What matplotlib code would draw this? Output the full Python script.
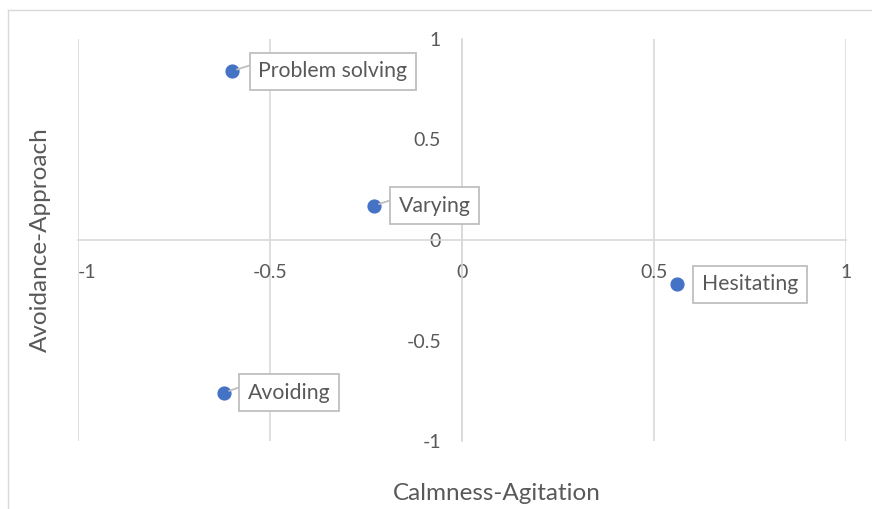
import matplotlib.pyplot as plt
from matplotlib.lines import Line2D

plt.rcParams['font.family'] = ['Lato', 'DejaVu Sans']

# data
names = ['Problem solving', 'Varying', 'Hesitating', 'Avoiding']
calm_agit = [-0.60, -0.23, 0.56, -0.62]
avoid_appr = [0.84, 0.17, -0.22, -0.76]
ticks = [-1, -0.5, 0, 0.5, 1]
tick_labels = ['-1', '-0.5', '0', '0.5', '1']

# label offsets (pixels) and leader line yes/no
offsets = [(101, 0), (61, 0), (73, 0), (65, 0)]
leaders = [True, True, False, True]

W, H = 872, 509
fig = plt.figure(figsize=(W / 100, H / 100), dpi=100)
ax = fig.add_axes([78 / W, (H - 441) / H, (846 - 78) / W, (441 - 39) / H])

grey = '#d9d9d9'
txt = '#595959'

ax.set_xlim(-1, 1)
ax.set_ylim(-1, 1)
ax.set_xticks(ticks)
ax.set_xticklabels(tick_labels)
ax.set_yticks(ticks)
ax.set_yticklabels(tick_labels)
ax.grid(axis='x', color=grey, lw=1.2)
ax.set_axisbelow(True)

for s in ['top', 'right']:
    ax.spines[s].set_visible(False)
ax.spines['bottom'].set_position('zero')
ax.spines['left'].set_position('zero')
ax.spines['bottom'].set_color(grey)
ax.spines['left'].set_color(grey)
ax.spines['bottom'].set_linewidth(1.2)
ax.spines['left'].set_linewidth(1.2)
ax.tick_params(length=0, labelsize=14, colors=txt, pad=17)
ax.tick_params(axis='y', pad=15)
ax.get_xticklabels()[0].set_ha('left')

ax.scatter(calm_agit, avoid_appr, s=85, color='#4472C4', zorder=3)

for n, x, y, off, lead in zip(names, calm_agit, avoid_appr, offsets, leaders):
    ap = None
    if lead:
        ap = dict(arrowstyle='-', color='#bfbfbf', lw=1.3, shrinkA=0, shrinkB=4,
                  relpos=(0, 0.92))
    ax.annotate(n, (x, y), xytext=off, textcoords='offset pixels',
                ha='center', va='center', fontsize=15.3, color=txt,
                bbox=dict(boxstyle='square,pad=0.4', fc='white', ec='#bfbfbf', lw=1.3),
                arrowprops=ap, zorder=4)

fig.text(497 / W, 1 - 493 / H, 'Calmness-Agitation', ha='center', va='center',
         fontsize=17.5, color=txt)
fig.text(40 / W, 1 - 240 / H, 'Avoidance-Approach', ha='center', va='center',
         rotation=90, fontsize=17.5, color=txt)

# chart border (cropped at right and bottom)
fig.add_artist(Line2D([8 / W, 1], [1 - 10 / H] * 2, transform=fig.transFigure,
                      color=grey, lw=1))
fig.add_artist(Line2D([8 / W] * 2, [0, 1 - 10 / H], transform=fig.transFigure,
                      color=grey, lw=1))

fig.savefig('out.png', dpi=100)
